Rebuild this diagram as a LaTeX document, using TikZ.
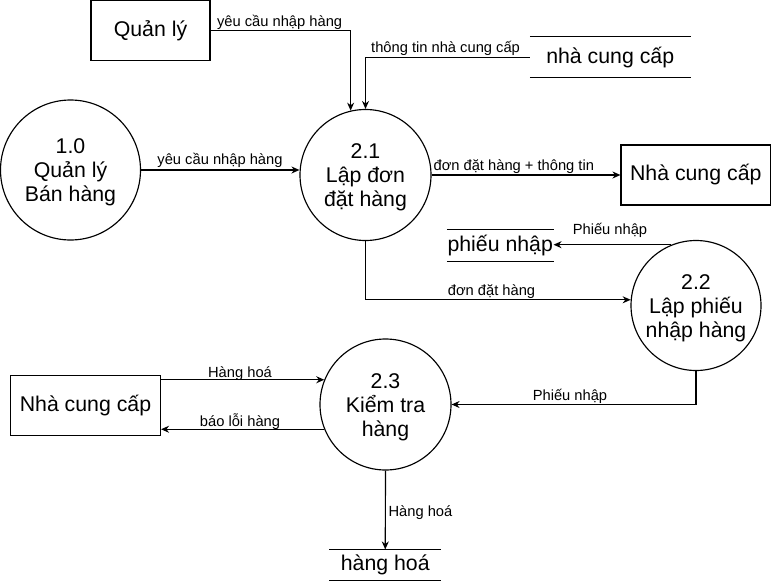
\documentclass[tikz,border=0pt]{standalone}
\usepackage{fontspec}
\setmainfont{Liberation Sans}
\usetikzlibrary{arrows.meta}
\newcommand\dfdbig{\fontsize{21.3}{24}\selectfont}
\newcommand\dfdlbl{\fontsize{14.7}{17}\selectfont}
\newcommand\dfdtop{\rule{0pt}{19.5pt}}
\begin{document}
\begin{tikzpicture}[x=1pt,y=-1pt,line width=1.15pt,
  >={Stealth[length=8pt,width=7pt]},
  proc/.style={draw,circle,minimum size=#1,inner sep=0pt,align=center,font=\dfdbig},
  ent/.style={draw,rectangle,minimum height=60pt,inner sep=0pt,font=\dfdbig},
  store/.style={rectangle,inner sep=0pt,font=\dfdbig},
  lbl/.style={inner sep=0pt,font=\dfdlbl},
  flow/.style={->}]
\useasboundingbox (0,0) rectangle (771,581);
% processes
\node[proc=140pt] (c10) at (70.5,170) {\dfdtop 1.0\\Quản lý\\Bán hàng};
\node[proc=131pt] (c21) at (365.5,175) {\dfdtop 2.1\\Lập đơn\\đặt hàng};
\node[proc=130pt] (c22) at (696,305.5) {\dfdtop 2.2\\Lập phiếu\\nhập hàng};
\node[proc=131pt] (c23) at (385.5,404.5) {\dfdtop 2.3\\Kiểm tra\\hàng};
% entities
\node[ent,minimum width=119pt] (ql) at (150.5,30.5) {Quản lý};
\node[ent,minimum width=149.5pt] (nccR) at (695.75,175) {Nhà cung cấp};
\node[ent,minimum width=150pt] (nccL) at (85.5,405.5) {Nhà cung cấp};
% data stores
\node[store,minimum width=159.5pt,minimum height=40pt] (sncc) at (610.25,57.3) {nhà cung cấp};
\node[store,minimum width=100.5pt,minimum height=30.5pt] (spn) at (500.25,245.25) {phiếu nhập};
\node[store,minimum width=110.5pt,minimum height=29.5pt] (shh) at (385.25,564.75) {hàng hoá};
\draw (sncc.north west) -- (sncc.north east) (sncc.south west) -- (sncc.south east);
\draw (spn.north west) -- (spn.north east) (spn.south west) -- (spn.south east);
\draw (shh.north west) -- (shh.north east) (shh.south west) -- (shh.south east);
% flows
\draw[flow] (ql.east) -| (c21.103);
\draw[flow] (sncc.west) -| (c21.north);
\draw[flow] (c10.east) -- (c10.east -| c21.west);
\draw[flow] (c21) -- (nccR);
\draw[flow] (c22.112.6) -- (c22.112.6 -| spn.east);
\draw[flow] (c21.south) |- (c22.175);
\draw[flow] (c22.south) |- (c23.east);
\draw[flow] (nccL.east |- c23.158.7) -- (c23.158.7);
\draw[flow] (c23.202.9) -- (c23.202.9 -| nccL.east);
\draw[flow] (c23.south) -- (shh.north);
% labels
\node[lbl,anchor=base west] (l1) at (216.5,26) {yêu cầu nhập hàng};
\node[lbl,anchor=base east] (l2) at (520.5,52.5) {thông tin nhà cung cấp};
\node[lbl,anchor=base] (l3) at (220,164.3) {yêu cầu nhập hàng};
\node[lbl,anchor=base west] (l4) at (433,170) {đơn đặt hàng + thông tin};
\node[lbl,anchor=base] (l5) at (610,234.5) {Phiếu nhập};
\node[lbl,anchor=base] (l6) at (491.5,295.7) {đơn đặt hàng};
\node[lbl,anchor=base] (l7) at (570,400) {Phiếu nhập};
\node[lbl,anchor=base] (l8) at (240,377) {Hàng hoá};
\node[lbl,anchor=base] (l9) at (240,426) {báo lỗi hàng};
\node[lbl,anchor=base west] (l10) at (388,516.5) {Hàng hoá};
\end{tikzpicture}
\end{document}
